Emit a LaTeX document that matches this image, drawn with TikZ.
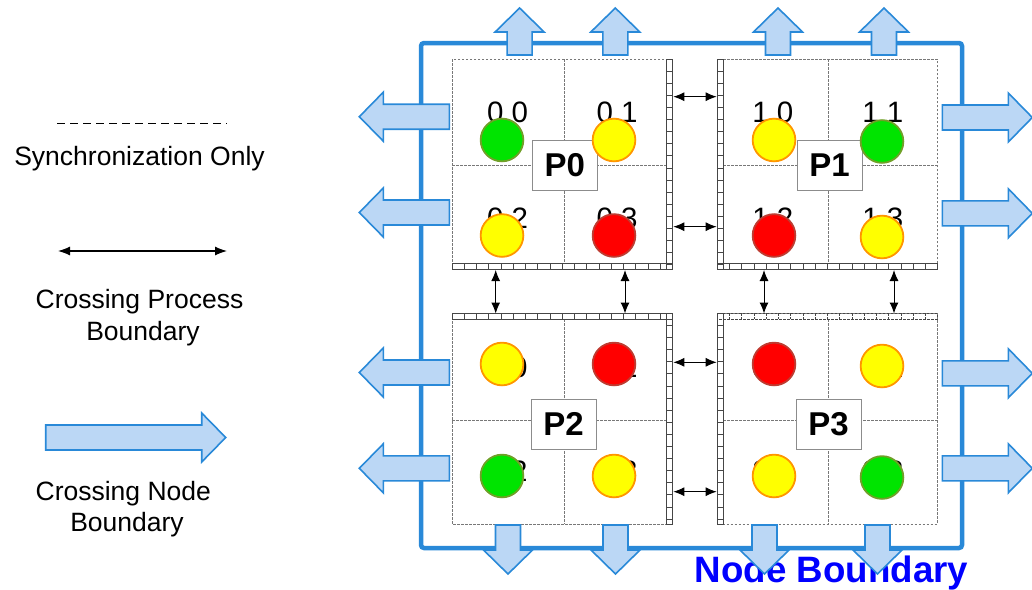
\documentclass[tikz,border=0pt]{standalone}
\usepackage{fontspec}
\setmainfont{Liberation Sans}
\usetikzlibrary{arrows.meta}

\definecolor{nodeblue}{RGB}{41,137,216}
\definecolor{arrowfill}{RGB}{187,215,245}
\definecolor{ballgreen}{RGB}{0,228,0}
\definecolor{ballgreenline}{RGB}{112,160,40}
\definecolor{ballyellow}{RGB}{255,255,0}
\definecolor{ballyellowline}{RGB}{255,150,0}
\definecolor{ballred}{RGB}{255,0,0}
\definecolor{ballredline}{RGB}{190,60,50}
\definecolor{gridgray}{RGB}{120,120,120}
\definecolor{rulergray}{RGB}{70,70,70}
\definecolor{boxgray}{RGB}{140,140,140}
\definecolor{labelblue}{RGB}{0,0,255}

\tikzset{
  fatarrow/.style={draw=nodeblue, fill=arrowfill, line width=1.6pt, line join=miter},
  griddash/.style={draw=gridgray, line width=0.8pt, dash pattern=on 2.5pt off 1.5pt},
  ruler/.style={draw=rulergray, line width=0.8pt},
  cellnum/.style={font=\fontsize{29.5}{29.5}\selectfont, anchor=base, inner sep=0pt},
  ball/.style={circle, minimum size=42.7pt, inner sep=0pt, line width=1.8pt},
  greenball/.style={ball, fill=ballgreen, draw=ballgreenline},
  yellowball/.style={ball, fill=ballyellow, draw=ballyellowline},
  redball/.style={ball, fill=ballred, draw=ballredline},
  pbox/.style={draw=boxgray, fill=white, line width=1pt, minimum width=65pt, minimum height=50pt,
    inner sep=0pt, font=\bfseries\fontsize{33}{33}\selectfont},
  legendtext/.style={font=\fontsize{26.5}{26.5}\selectfont, anchor=base, inner sep=0pt},
  sync/.style={line width=1pt, {Latex[length=11pt,width=9pt]}-{Latex[length=11pt,width=9pt]}},
}

% block arrow: base point, direction angle, shaft length
\newcommand\FatArrow[4]{\draw[fatarrow, shift={(#1,#2)}, rotate=#3]
  (0,-12.5) -- (#4,-12.5) -- (#4,-24.5) -- ({#4+24},0) -- (#4,24.5) -- (#4,12.5) -- (0,12.5) -- cycle;}

% ghost-cell strips
\newcommand\HRuler[5][]{\draw[ruler,#1] (#2,#4) rectangle (#3,#5);
  \foreach \t in {1,...,17} \draw[ruler,#1] ({#2+\t*12.25},#4) -- ({#2+\t*12.25},#5);}
\newcommand\VRuler[5][]{\draw[ruler,#1] (#2,#4) rectangle (#3,#5);
  \foreach \t in {1,...,17} \draw[ruler,#1] (#2,{#4+\t*12.1}) -- (#3,{#4+\t*12.1});}

\begin{document}
\begin{tikzpicture}[x=1pt, y=-1pt]
\useasboundingbox (0,0) rectangle (1032,589);

% ---- legend ----
\draw[line width=1pt, dash pattern=on 7.5pt off 5.5pt] (57,123) -- (227,123);
\node[legendtext] (syncl) at (139.5,165) {Synchronization Only};
\coordinate (lga) at (58,251);
\coordinate (lgb) at (227,251);
\draw[line width=1.2pt, {Latex[length=12pt,width=9pt]}-{Latex[length=12pt,width=9pt]}] (lga) -- (lgb);
\node[legendtext] (procl1) at (139.5,308) {Crossing Process};
\node[legendtext] (procl2) at (143,340) {Boundary};
\FatArrow{45.7}{437.5}{0}{156}
\node[legendtext] (nodel1) at (123.3,500) {Crossing Node};
\node[legendtext] (nodel2) at (127,531.7) {Boundary};

% ---- node boundary ----
\draw[nodeblue, line width=4.5pt, rounded corners=3pt] (421,43) rectangle (962,548);
\node[font=\bfseries\fontsize{36.7}{37}\selectfont, text=labelblue, anchor=base, inner sep=0pt]
  (nb) at (831.5,582) {Node Boundary};

% ---- process blocks ----
% P0
\draw[griddash] (452,59) rectangle (672,269);
\draw[griddash] (564,59) -- (564,263);
\draw[griddash] (452,165.7) -- (666,165.7);
\VRuler{666}{672.3}{59}{269}
\HRuler{452}{672.3}{263.3}{269.3}
% P1
\draw[griddash] (717,59) rectangle (937.3,269);
\draw[griddash] (828.3,59) -- (828.3,263);
\draw[griddash] (723,165.7) -- (937.3,165.7);
\VRuler{717.3}{723.3}{59}{269.3}
\HRuler{717.3}{937.3}{263.3}{269.3}
% P2
\draw[griddash] (452,313.3) rectangle (672.3,524);
\draw[griddash] (564,319) -- (564,524);
\draw[griddash] (452,420.7) -- (666,420.7);
\HRuler{452}{672.3}{313.3}{319.3}
\VRuler{666}{672.3}{313.3}{524}
% P3
\draw[griddash] (717.3,313.3) rectangle (937.3,524);
\draw[griddash] (828.3,319) -- (828.3,524);
\draw[griddash] (723,420.7) -- (937.3,420.7);
\HRuler[dash pattern=on 2.5pt off 1.5pt]{717.3}{937.3}{313.3}{319.3}
\VRuler{717.3}{723.3}{313.3}{524}

% ---- cell numbers ----
\node[cellnum] (l00) at (507.5,122) {0 0};
\node[cellnum] (l01) at (617,122) {0 1};
\node[cellnum] (l02) at (507.5,228) {0 2};
\node[cellnum] (l03) at (617,228) {0 3};
\node[cellnum] (l10) at (772.8,122) {1 0};
\node[cellnum] (l11) at (882.8,122) {1 1};
\node[cellnum] (l12) at (772.8,228) {1 2};
\node[cellnum] (l13) at (882.8,228) {1 3};
\node[cellnum] (l20) at (507,377) {2 0};
\node[cellnum] (l21) at (617,377) {2 1};
\node[cellnum] (l22) at (507,481.5) {2 2};
\node[cellnum] (l23) at (617,481.5) {2 3};
\node[cellnum] (l30) at (773,377) {3 0};
\node[cellnum] (l31) at (883,377) {3 1};
\node[cellnum] (l32) at (773,481.5) {3 2};
\node[cellnum] (l33) at (883,481.5) {3 3};

% ---- process labels ----
\node[pbox] (p0) at (564.8,165) {P0};
\node[pbox] (p1) at (829.5,165) {P1};
\node[pbox] (p2) at (563.5,424.3) {P2};
\node[pbox] (p3) at (828.5,424.3) {P3};

% ---- cell states ----
\node[greenball]  (c00) at (502,140) {};
\node[yellowball] (c01) at (614,140) {};
\node[yellowball] (c02) at (502,235.5) {};
\node[redball]    (c03) at (614,235.5) {};
\node[yellowball] (c10) at (774,140) {};
\node[greenball]  (c11) at (882,141.5) {};
\node[redball]    (c12) at (774,235.5) {};
\node[yellowball] (c13) at (882,237) {};
\node[yellowball] (c20) at (502,364) {};
\node[redball]    (c21) at (614,364) {};
\node[greenball]  (c22) at (502,476) {};
\node[yellowball] (c23) at (614,476) {};
\node[redball]    (c30) at (774,364) {};
\node[yellowball] (c31) at (882,366) {};
\node[yellowball] (c32) at (774,476) {};
\node[greenball]  (c33) at (882,477.5) {};

% ---- process-boundary exchanges ----
\coordinate (a01a) at (673.3,96.7);  \coordinate (a01b) at (716.7,96.7);
\coordinate (b01a) at (673.3,226.7); \coordinate (b01b) at (716.7,226.7);
\coordinate (a23a) at (673.3,362.3); \coordinate (a23b) at (716.7,362.3);
\coordinate (b23a) at (673.3,491.7); \coordinate (b23b) at (716.7,491.7);
\coordinate (a02a) at (495.7,270);   \coordinate (a02b) at (495.7,313.5);
\coordinate (b02a) at (625,270);     \coordinate (b02b) at (625,313.5);
\coordinate (a13a) at (764,270);     \coordinate (a13b) at (764,313.5);
\coordinate (b13a) at (894,270);     \coordinate (b13b) at (894,313.5);
\foreach \p in {a01,b01,a23,b23,a02,b02,a13,b13}
  \draw[sync] (\p a) -- (\p b);

% ---- node-boundary exchanges ----
\FatArrow{519.6}{55}{90}{23}
\FatArrow{615.3}{55}{90}{23}
\FatArrow{778}{55}{90}{23}
\FatArrow{884}{55}{90}{23}
\FatArrow{508}{525}{-90}{25}
\FatArrow{615.5}{525}{-90}{25}
\FatArrow{764.5}{525}{-90}{25}
\FatArrow{877.5}{525}{-90}{25}
\FatArrow{449.3}{116.7}{180}{66}
\FatArrow{449.3}{212.5}{180}{66}
\FatArrow{449.3}{372.5}{180}{66}
\FatArrow{449.3}{468.3}{180}{66}
\FatArrow{942.3}{117.5}{0}{66}
\FatArrow{942.3}{213.3}{0}{66}
\FatArrow{942.3}{373.3}{0}{66}
\FatArrow{942.3}{468.3}{0}{66}
\end{tikzpicture}
\end{document}
